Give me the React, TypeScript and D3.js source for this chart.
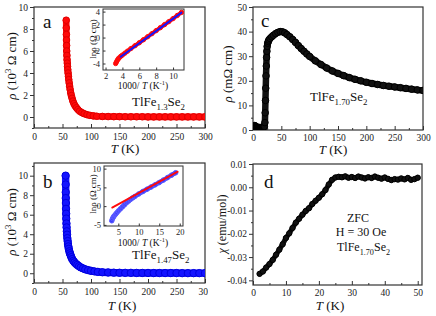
import * as d3 from "d3";
import React, { useRef, useEffect } from "react";

// ---- panel a : TlFe1.3Se2, rho(T) ----
const aTemp = [56.5, 56.6, 56.8, 57, 57.2, 57.4, 57.7, 58, 58.4, 58.8, 59.3, 59.8, 60.4, 61, 61.7, 62.5, 63.4, 64.4, 65.5, 66.8, 68.2, 70, 72, 74.5, 77, 80, 84, 88, 93, 98, 104, 110,
  120, 130, 140, 150, 160, 170, 180, 190, 200, 210, 220, 230, 240, 250, 260, 270, 280, 290, 300];
const aRho = [8.8, 8.1, 7.5, 7.0, 6.5, 6.0, 5.6, 5.2, 4.9, 4.6, 4.3, 4.0, 3.7, 3.4, 3.1, 2.8, 2.5, 2.2, 1.95, 1.7, 1.45, 1.22, 1.02, 0.84, 0.68, 0.53, 0.4, 0.3, 0.21, 0.15, 0.1, 0.07,
  0.05, 0.04, 0.03, 0.03, 0.02, 0.02, 0.02, 0.02, 0.01, 0.01, 0.01, 0.01, 0.01, 0.01, 0.01, 0.01, 0.01, 0.01, 0.01];
// inset a : ln rho vs 1000/T
const aInvT = [3.2, 3.3, 3.4, 3.5, 3.6, 3.8, 4.0, 4.3, 4.6, 5.0, 5.5, 6.0, 6.5, 7.0, 7.5, 8.0, 8.5, 9.0, 9.5, 10.0, 10.5, 11.0];
const aLnRho = [-4.0, -3.75, -3.5, -3.3, -3.15, -2.9, -2.7, -2.4, -2.1, -1.7, -1.25, -0.8, -0.33, 0.13, 0.6, 1.07, 1.53, 2.0, 2.45, 2.92, 3.4, 3.87];
const aFitX = [3.8, 11.0];
const aFitY = [-2.95, 3.85];

// ---- panel b : TlFe1.47Se2 ----
const bTemp = [55.5, 55.6, 55.7, 55.8, 56, 56.2, 56.4, 56.6, 56.9, 57.2, 57.6, 58, 58.5, 59, 59.6, 60.3, 61, 62, 63, 64.2, 65.5, 67, 69, 71, 73.5, 76, 79, 82, 86, 90, 95, 100, 106, 112,
  120, 130, 140, 150, 160, 170, 180, 190, 200, 210, 220, 230, 240, 250, 260, 270, 280, 290, 300];
const bRho = [10, 9.1, 8.3, 7.7, 7.2, 6.6, 6.1, 5.6, 5.1, 4.7, 4.3, 3.95, 3.6, 3.3, 3.0, 2.75, 2.5, 2.25, 2.05, 1.85, 1.65, 1.45, 1.27, 1.12, 0.97, 0.85, 0.72, 0.6, 0.5, 0.4, 0.32, 0.25, 0.19, 0.14,
  0.1, 0.08, 0.06, 0.05, 0.04, 0.04, 0.03, 0.03, 0.03, 0.02, 0.02, 0.02, 0.02, 0.02, 0.01, 0.01, 0.01, 0.01, 0.01];
const bInvT = [3.4, 3.6, 3.8, 4.0, 4.3, 4.6, 5.0, 5.5, 6.0, 6.5, 7.0, 7.5, 8.0, 8.5, 9.0, 10, 11, 12, 13, 14, 15, 16, 17, 18, 19];
const bLnRho = [-3.9, -3.3, -2.9, -2.6, -2.2, -1.8, -1.3, -0.75, -0.2, 0.35, 0.9, 1.35, 1.8, 2.2, 2.55, 3.25, 3.9, 4.5, 5.1, 5.7, 6.3, 6.95, 7.6, 8.25, 8.9];
const bFitX = [3.5, 19.5];
const bFitY = [-0.4, 9.2];

// ---- panel c : TlFe1.70Se2 rho(T) ----
const cTemp = [2, 3, 4, 5, 6, 7, 8, 9, 10, 11, 12, 13, 14, 15, 16, 17, 18, 19, 20, 21, 21.5, 22, 22.5, 23, 23.5, 24, 24.5, 25,
  26, 27, 28, 30, 33, 36, 40, 44, 48, 52, 56, 60, 65, 70, 75, 80, 85, 90, 95, 100,
  110, 120, 130, 140, 150, 160, 170, 180, 190, 200, 210, 220, 230, 240, 250, 260, 270, 280, 290, 300];
const cRho = [1.5, 1.8, 1.6, 1.4, 1.2, 1.0, 1.0, 1.1, 0.9, 0.9, 1.0, 0.9, 1.0, 1.0, 1.1, 1.0, 1.2, 1.2, 1.4, 3, 7, 12, 17, 22, 26, 29.5, 32, 34,
  35.3, 36, 36.6, 37.2, 37.9, 38.5, 39.2, 39.7, 40, 39.9, 39.5, 38.8, 37.9, 36.8, 35.6, 34.3, 33.1, 32, 30.9, 29.9,
  28.1, 26.6, 25.2, 24, 23, 22.1, 21.3, 20.6, 20, 19.4, 18.9, 18.5, 18.1, 17.8, 17.5, 17.2, 16.9, 16.6, 16.3, 16.1];

// ---- panel d : ZFC susceptibility ----
const dTemp = [2, 3, 4, 5, 6, 7, 8, 9, 10, 11, 12, 13, 14, 15, 16, 17, 18, 19, 20, 21, 22, 23, 24, 25,
  26, 27, 28, 29, 30, 31, 32, 33, 34, 35, 36, 37, 38, 39, 40, 41, 42, 43, 44, 45, 46, 47, 48, 49, 50];
const dChi = [-0.0372, -0.0362, -0.0345, -0.033, -0.0312, -0.029, -0.0268, -0.0245, -0.0218, -0.0198, -0.0175, -0.0152, -0.0135, -0.0118, -0.0102, -0.009, -0.0072, -0.0058, -0.0045, -0.003, -0.0012, 0.0012, 0.0032, 0.0042,
  0.0045, 0.0043, 0.0047, 0.0041, 0.0044, 0.004, 0.0046, 0.0042, 0.0038, 0.0043, 0.004, 0.0046, 0.0041, 0.0037, 0.0042, 0.0036, 0.0031, 0.0035, 0.0033, 0.0038, 0.0034, 0.004, 0.0032, 0.0035, 0.0041];

const tempTicks = [0, 50, 100, 150, 200, 250, 300];
const tempMinor = [25, 75, 125, 175, 225, 275];

const SERIF = "Liberation Serif, Times New Roman, DejaVu Serif, serif";
const RED = "#ff0a0a";
const BLUE = "#1414ff";

type Part = { t: string; i?: boolean; sub?: boolean; sup?: boolean };

const rich = (g: any, parts: Part[], x: number, y: number, size: number, anchor = "start", rot = 0) => {
  const txt = g
    .append("text")
    .attr("transform", `translate(${x},${y}) rotate(${rot})`)
    .attr("text-anchor", anchor)
    .style("font-family", SERIF)
    .style("font-size", size + "px")
    .attr("fill", "#111");
  let shift = 0;
  parts.forEach((p) => {
    const target = p.sub ? size * 0.3 : p.sup ? -size * 0.38 : 0;
    txt
      .append("tspan")
      .attr("dy", target - shift)
      .style("font-size", (p.sub || p.sup ? size * 0.68 : size) + "px")
      .style("font-style", p.i ? "italic" : "normal")
      .text(p.t);
    shift = target;
  });
};

const drawAxes = (g: any, x: any, y: any, o: any) => {
  const [x0, x1] = x.range();
  const [yb, yt] = y.range();
  const fmt = o.fmt || ((v: number) => String(v));
  const bottom = g
    .append("g")
    .attr("transform", `translate(0,${yb})`)
    .call(d3.axisBottom(x).tickValues(o.xTicks).tickSize(o.xIn ? -o.len : o.len).tickPadding(o.xPad).tickFormat(o.xFmt || fmt));
  const bottomMinor = g
    .append("g")
    .attr("transform", `translate(0,${yb})`)
    .call(d3.axisBottom(x).tickValues(o.xMinor || []).tickSize(o.xIn ? -o.len / 2 : o.len / 2).tickFormat(() => ""));
  const left = g
    .append("g")
    .attr("transform", `translate(${x0},0)`)
    .call(d3.axisLeft(y).tickValues(o.yTicks).tickSize(o.yIn ? -o.len : o.len).tickPadding(o.yPad).tickFormat(o.yFmt || fmt));
  const leftMinor = g
    .append("g")
    .attr("transform", `translate(${x0},0)`)
    .call(d3.axisLeft(y).tickValues(o.yMinor || []).tickSize(o.yIn ? -o.len / 2 : o.len / 2).tickFormat(() => ""));
  [bottom, bottomMinor, left, leftMinor].forEach((s) => {
    s.select(".domain").remove();
    s.attr("font-family", null).attr("font-size", null);
    s.selectAll("line").attr("stroke", "#333").attr("stroke-width", 1);
    s.selectAll("text").attr("fill", "#222").style("font-family", SERIF).style("font-size", o.fs + "px");
  });
  g.append("rect")
    .attr("x", x0)
    .attr("y", yt)
    .attr("width", x1 - x0)
    .attr("height", yb - yt)
    .attr("fill", "none")
    .attr("stroke", "#333")
    .attr("stroke-width", o.sw || 1.2);
};

const series = (g: any, x: any, y: any, xs: number[], ys: number[], o: any) => {
  const pts = xs.map((v, i) => [v, ys[i]]);
  if (o.lw) {
    g.append("path")
      .datum(pts)
      .attr("d", d3.line().x((d: any) => x(d[0])).y((d: any) => y(d[1])))
      .attr("fill", "none")
      .attr("stroke", o.band)
      .attr("stroke-width", o.lw)
      .attr("stroke-linejoin", "round")
      .attr("stroke-linecap", "round");
  }
  if (o.r) {
    g.selectAll(null)
      .data(pts)
      .enter()
      .append("circle")
      .attr("cx", (d: any) => x(d[0]))
      .attr("cy", (d: any) => y(d[1]))
      .attr("r", o.r)
      .attr("fill", o.fill)
      .attr("stroke", o.stroke)
      .attr("stroke-width", o.sw || 1);
  }
};

const clipTo = (defs: any, id: string, x: any, y: any) => {
  const [x0, x1] = x.range();
  const [yb, yt] = y.range();
  defs.append("clipPath").attr("id", id).append("rect").attr("x", x0).attr("y", yt).attr("width", x1 - x0).attr("height", yb - yt);
};

const App = () => {
  const ref = useRef<SVGSVGElement>(null);

  useEffect(() => {
    if (!ref.current) return;
    const svg = d3.select(ref.current);
    svg.selectAll("*").remove();
    svg.append("rect").attr("width", 436).attr("height", 316).attr("fill", "#fff");
    const defs = svg.append("defs");

    const mainOpts = { xTicks: tempTicks, xMinor: tempMinor, xIn: true, len: 4, fs: 9.5 };

    // ---------- a ----------
    const ga = svg.append("g");
    const xa = d3.scaleLinear().domain([0, 300]).range([34, 205]);
    const ya = d3.scaleLinear().domain([-1, 10]).range([128, 7]);
    clipTo(defs, "clip-a", xa, ya);
    drawAxes(ga, xa, ya, { ...mainOpts, xPad: 5, yTicks: [0, 2, 4, 6, 8, 10], yMinor: [-1, 1, 3, 5, 7, 9], yPad: 2 });
    series(ga.append("g").attr("clip-path", "url(#clip-a)"), xa, ya, aTemp, aRho, { lw: 6.6, band: RED, r: 3.3, fill: RED, stroke: "#e00000" });
    rich(ga, [{ t: "a" }], 43, 28, 19);
    rich(ga, [{ t: "TlFe" }, { t: "1.3", sub: true }, { t: "Se" }, { t: "2", sub: true }], 132, 106, 13);
    rich(ga, [{ t: "T", i: true }, { t: " (K)" }], 125, 153, 13, "middle");
    rich(ga, [{ t: "ρ", i: true }, { t: " (10" }, { t: "3", sup: true }, { t: " Ω cm)" }], 16, 66, 13, "middle", -90);

    // inset a
    const xai = d3.scaleLinear().domain([1.7, 11.3]).range([103, 184]);
    const yai = d3.scaleLinear().domain([-5, 4.4]).range([70, 9]);
    clipTo(defs, "clip-ai", xai, yai);
    drawAxes(ga, xai, yai, { xTicks: [2, 4, 6, 8, 10], yTicks: [-4, -2, 0, 2, 4], xIn: true, yIn: true, len: 2.5, fs: 8.5, xPad: 3, yPad: 3, sw: 1 });
    const gai = ga.append("g").attr("clip-path", "url(#clip-ai)");
    series(gai, xai, yai, aInvT, aLnRho, { lw: 4, band: RED, r: 2.2, fill: "none", stroke: RED });
    series(gai, xai, yai, aFitX, aFitY, { lw: 2, band: BLUE });
    rich(ga, [{ t: "lnρ (Ω cm)" }], 96, 39, 9, "middle", -90);
    rich(ga, [{ t: "1000/ " }, { t: "T", i: true }, { t: " (K" }, { t: "-1", sup: true }, { t: ")" }], 143, 89, 9.5, "middle");

    // ---------- b ----------
    defs.append("clipPath").attr("id", "clip-bpanel").append("rect").attr("x", 0).attr("y", 150).attr("width", 208).attr("height", 166);
    const gb = svg.append("g").attr("clip-path", "url(#clip-bpanel)");
    const xb = d3.scaleLinear().domain([0, 300]).range([34, 205]);
    const yb = d3.scaleLinear().domain([-1, 11.3]).range([283, 163]);
    clipTo(defs, "clip-b", xb, yb);
    drawAxes(gb, xb, yb, { ...mainOpts, xPad: 5, yTicks: [0, 2, 4, 6, 8, 10], yMinor: [-1, 1, 3, 5, 7, 9, 11], yPad: 2 });
    series(gb.append("g").attr("clip-path", "url(#clip-b)"), xb, yb, bTemp, bRho, { lw: 7.4, band: BLUE, r: 3.7, fill: BLUE, stroke: "#0000dd" });
    rich(gb, [{ t: "b" }], 43, 188, 19);
    rich(gb, [{ t: "TlFe" }, { t: "1.47", sub: true }, { t: "Se" }, { t: "2", sub: true }], 132, 259, 13);
    rich(gb, [{ t: "T", i: true }, { t: " (K)" }], 122, 310, 13, "middle");
    rich(gb, [{ t: "ρ", i: true }, { t: " (10" }, { t: "3", sup: true }, { t: " Ω cm)" }], 16, 222, 13, "middle", -90);

    // inset b
    const xbi = d3.scaleLinear().domain([1.5, 20.8]).range([104, 183]);
    const ybi = d3.scaleLinear().domain([-5.3, 10.7]).range([226, 166]);
    clipTo(defs, "clip-bi", xbi, ybi);
    drawAxes(gb, xbi, ybi, { xTicks: [5, 10, 15, 20], yTicks: [-5, 0, 5, 10], xIn: true, yIn: true, len: 2.5, fs: 8.5, xPad: 3, yPad: 3, sw: 1 });
    const gbi = gb.append("g").attr("clip-path", "url(#clip-bi)");
    series(gbi, xbi, ybi, bInvT, bLnRho, { lw: 4.5, band: "#3c3cff", r: 2.3, fill: "none", stroke: "#5a5aff" });
    series(gbi, xbi, ybi, bFitX, bFitY, { lw: 1.8, band: RED });
    rich(gb, [{ t: "lnρ (Ω cm)" }], 96, 194, 9, "middle", -90);
    rich(gb, [{ t: "1000/ " }, { t: "T", i: true }, { t: " (K" }, { t: "-1", sup: true }, { t: ")" }], 143, 246, 9.5, "middle");

    // ---------- c ----------
    const gc = svg.append("g");
    const xc = d3.scaleLinear().domain([0, 300]).range([253, 423]);
    const yc = d3.scaleLinear().domain([0, 50]).range([130, 7]);
    clipTo(defs, "clip-c", xc, yc);
    drawAxes(gc, xc, yc, { ...mainOpts, xPad: 4, yTicks: [0, 10, 20, 30, 40, 50], yMinor: [5, 15, 25, 35, 45], yPad: 2 });
    series(gc.append("g").attr("clip-path", "url(#clip-c)"), xc, yc, cTemp, cRho, { lw: 6.5, band: "#111", r: 3.3, fill: "#111", stroke: "#000" });
    rich(gc, [{ t: "c" }], 261, 27, 19);
    rich(gc, [{ t: "TlFe" }, { t: "1.70", sub: true }, { t: "Se" }, { t: "2", sub: true }], 310, 101, 13);
    rich(gc, [{ t: "T", i: true }, { t: " (K)" }], 333, 154, 13, "middle");
    rich(gc, [{ t: "ρ", i: true }, { t: " (mΩ cm)" }], 232, 74, 13, "middle", -90);

    // ---------- d ----------
    const gd = svg.append("g");
    const xd = d3.scaleLinear().domain([0, 51.3]).range([253, 422]);
    const yd = d3.scaleLinear().domain([-0.042, 0.01]).range([285, 164]);
    clipTo(defs, "clip-d", xd, yd);
    drawAxes(gd, xd, yd, {
      xTicks: [0, 10, 20, 30, 40, 50], xMinor: [5, 15, 25, 35, 45], xIn: true, len: 4, fs: 9.5, xPad: 4,
      yTicks: [0.01, 0, -0.01, -0.02, -0.03, -0.04], yMinor: [0.005, -0.005, -0.015, -0.025, -0.035], yPad: 2,
      yFmt: (v: number) => v.toFixed(2),
    });
    series(gd.append("g").attr("clip-path", "url(#clip-d)"), xd, yd, dTemp, dChi, { lw: 5, band: "#111", r: 2.7, fill: "#111", stroke: "#000" });
    rich(gd, [{ t: "d" }], 264, 188, 19);
    rich(gd, [{ t: "ZFC" }], 358, 222, 12, "middle");
    rich(gd, [{ t: "H = 30 Oe" }], 361, 236, 12, "middle");
    rich(gd, [{ t: "TlFe" }, { t: "1.70", sub: true }, { t: "Se" }, { t: "2", sub: true }], 337, 251, 12);
    rich(gd, [{ t: "T", i: true }, { t: " (K)" }], 330, 310, 13, "middle");
    rich(gd, [{ t: "χ", i: true }, { t: " (emu/mol)" }], 226, 224, 12, "middle", -90);
  }, []);

  return <svg ref={ref} width={436} height={316} style={{ position: "absolute", left: 0, top: 0 }} />;
};

export default App;
